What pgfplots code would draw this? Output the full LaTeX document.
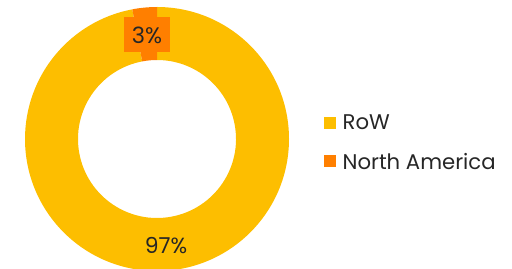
\documentclass[border=0pt]{standalone}
\usepackage{pgfplots}
\pgfplotsset{compat=1.18}
\usepackage{pgfplotstable}
\usepackage{fontspec}
\setmainfont{Poppins}
\definecolor{rowc}{HTML}{FDBE00}
\definecolor{nac}{HTML}{FF7F00}
\definecolor{txt}{HTML}{262626}
\pgfplotstableread{
label value
RoW 97
NA 3
}\datatable
\begin{document}
\begin{tikzpicture}
\pgfplotstablegetelem{0}{value}\of\datatable \let\vRoW\pgfplotsretval
\pgfplotstablegetelem{1}{value}\of\datatable \let\vNA\pgfplotsretval
\pgfmathsetmacro{\aA}{90}
\pgfmathsetmacro{\aB}{90-3.6*\vRoW}
\pgfmathsetmacro{\aC}{\aB-3.6*\vNA}
\begin{axis}[scale only axis, width=512bp, height=269bp,
  xmin=0, xmax=512, ymin=0, ymax=269, hide axis, clip=false,
  legend style={at={(axis cs:324,154)}, anchor=north west, draw=none, fill=none,
    font=\fontsize{21.3}{24}\selectfont\color{txt}, row sep=23bp, column sep=7bp, inner sep=0pt,
    nodes={inner sep=0pt, text depth=0pt}},
  legend cell align=left]
\addlegendimage{legend image code/.code={\fill[rowc] (0bp,-5.5bp) rectangle (11bp,5.5bp);}}
\addlegendentry{RoW}
\addlegendimage{legend image code/.code={\fill[nac] (0bp,-5.5bp) rectangle (11bp,5.5bp);}}
\addlegendentry{North America}
\fill[rowc] (axis cs:157,130) ++(\aA:132bp) arc[start angle=\aA, end angle=\aB, radius=132bp]
  -- ([shift={(\aB:79bp)}]axis cs:157,130) arc[start angle=\aB, end angle=\aA, radius=79bp] -- cycle;
\fill[nac] ([shift={(\aB:132bp)}]axis cs:157,130) arc[start angle=\aB, end angle=\aC, radius=132bp]
  -- ([shift={(\aC:79bp)}]axis cs:157,130) arc[start angle=\aC, end angle=\aB, radius=79bp] -- cycle;
\node[fill=nac, minimum width=46bp, minimum height=35bp, inner sep=0pt, text=txt,
  font=\fontsize{22.5}{26}\selectfont] at (axis cs:147,234) {3\%};
\node[text=txt, font=\fontsize{22}{26}\selectfont] at (axis cs:166,23) {97\%};
\end{axis}
\pgfresetboundingbox
\path (current axis.south west) rectangle (current axis.north east);
\end{tikzpicture}
\end{document}
